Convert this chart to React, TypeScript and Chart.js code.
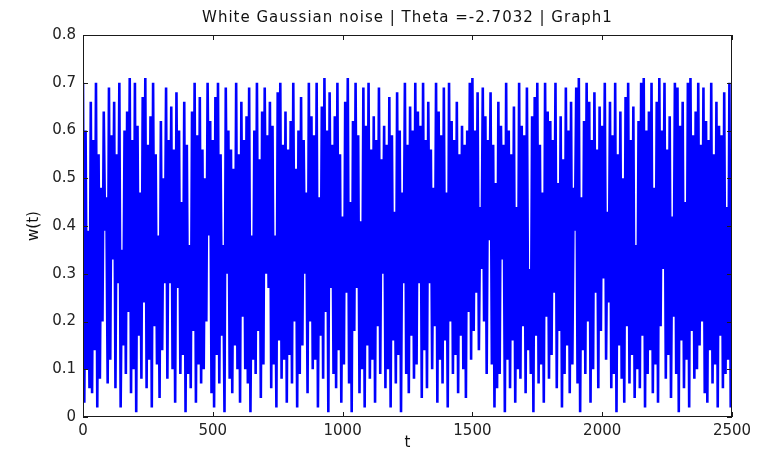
import React, { useEffect, useRef } from "react";
import { Chart, registerables } from "chart.js";

Chart.register(...registerables);

const chartTitle = "White Gaussian noise | Theta =-2.7032 | Graph1";
const xAxisLabel = "t";
const yAxisLabel = "w(t)";
const xTicks = [0, 500, 1000, 1500, 2000, 2500];
const yTicks = [0, 0.1, 0.2, 0.3, 0.4, 0.5, 0.6, 0.7, 0.8];
const yTickLabels = ["0", "0.1", "0.2", "0.3", "0.4", "0.5", "0.6", "0.7", "0.8"];
const xTickLabels = ["0", "500", "1000", "1500", "2000", "2500"];

// time between consecutive peak samples (a trough sample sits halfway between)
const sampleStep = 10;

// peaks of the noise signal
const upperValues = [
  0.70, 0.60, 0.39, 0.66, 0.58, 0.70, 0.55, 0.48, 0.64, 0.46,
  0.69, 0.59, 0.66, 0.55, 0.70, 0.35, 0.60, 0.64, 0.71, 0.58,
  0.70, 0.61, 0.47, 0.67, 0.71, 0.57, 0.63, 0.70, 0.55, 0.38,
  0.62, 0.50, 0.69, 0.58, 0.65, 0.56, 0.68, 0.60, 0.45, 0.66,
  0.57, 0.36, 0.64, 0.70, 0.59, 0.67, 0.56, 0.50, 0.70, 0.62,
  0.58, 0.67, 0.70, 0.55, 0.36, 0.69, 0.60, 0.56, 0.52, 0.70,
  0.55, 0.66, 0.58, 0.63, 0.69, 0.38, 0.60, 0.70, 0.54, 0.64,
  0.69, 0.59, 0.66, 0.61, 0.38, 0.68, 0.70, 0.57, 0.64, 0.56,
  0.62, 0.70, 0.52, 0.60, 0.67, 0.58, 0.47, 0.70, 0.63, 0.59,
  0.70, 0.46, 0.65, 0.71, 0.60, 0.68, 0.57, 0.63, 0.70, 0.55,
  0.42, 0.66, 0.71, 0.45, 0.62, 0.70, 0.59, 0.41, 0.69, 0.61,
  0.70, 0.56, 0.63, 0.58, 0.69, 0.54, 0.61, 0.57, 0.67, 0.59,
  0.43, 0.68, 0.60, 0.47, 0.70, 0.57, 0.65, 0.60, 0.70, 0.64,
  0.61, 0.70, 0.58, 0.66, 0.56, 0.48, 0.70, 0.64, 0.59, 0.69,
  0.47, 0.70, 0.62, 0.58, 0.66, 0.55, 0.61, 0.57, 0.60, 0.70,
  0.71, 0.60, 0.68, 0.44, 0.69, 0.63, 0.58, 0.68, 0.57, 0.49,
  0.66, 0.61, 0.57, 0.70, 0.60, 0.55, 0.65, 0.44, 0.70, 0.61,
  0.59, 0.69, 0.31, 0.63, 0.67, 0.70, 0.57, 0.47, 0.70, 0.64,
  0.62, 0.58, 0.70, 0.49, 0.63, 0.54, 0.69, 0.60, 0.66, 0.48,
  0.69, 0.71, 0.46, 0.62, 0.70, 0.66, 0.58, 0.68, 0.56, 0.65,
  0.61, 0.70, 0.43, 0.66, 0.59, 0.70, 0.55, 0.64, 0.50, 0.67,
  0.70, 0.58, 0.65, 0.36, 0.62, 0.70, 0.71, 0.60, 0.64, 0.70,
  0.48, 0.66, 0.71, 0.60, 0.70, 0.56, 0.63, 0.42, 0.70, 0.69,
  0.61, 0.66, 0.45, 0.70, 0.71, 0.59, 0.64, 0.70, 0.57, 0.69,
  0.62, 0.58, 0.70, 0.55, 0.66, 0.61, 0.59, 0.68, 0.44, 0.70,
];

// troughs of the noise signal
const lowerValues = [
  0.03, 0.10, 0.06, 0.05, 0.14, 0.02, 0.08, 0.20, 0.39, 0.07,
  0.12, 0.33, 0.06, 0.28, 0.02, 0.15, 0.09, 0.22, 0.05, 0.10,
  0.01, 0.17, 0.08, 0.24, 0.06, 0.12, 0.02, 0.19, 0.11, 0.04,
  0.14, 0.28, 0.08, 0.28, 0.10, 0.03, 0.27, 0.09, 0.13, 0.01,
  0.09, 0.06, 0.18, 0.03, 0.11, 0.07, 0.10, 0.20, 0.38, 0.05,
  0.02, 0.13, 0.07, 0.17, 0.01, 0.30, 0.08, 0.05, 0.15, 0.10,
  0.03, 0.21, 0.10, 0.07, 0.01, 0.12, 0.09, 0.18, 0.04, 0.11,
  0.30, 0.27, 0.06, 0.11, 0.02, 0.16, 0.08, 0.12, 0.03, 0.13,
  0.07, 0.20, 0.02, 0.09, 0.15, 0.30, 0.05, 0.20, 0.10, 0.12,
  0.02, 0.17, 0.08, 0.22, 0.01, 0.27, 0.09, 0.06, 0.14, 0.03,
  0.11, 0.26, 0.07, 0.01, 0.18, 0.27, 0.05, 0.10, 0.02, 0.15,
  0.08, 0.12, 0.03, 0.19, 0.09, 0.30, 0.06, 0.10, 0.02, 0.16,
  0.07, 0.13, 0.01, 0.28, 0.09, 0.05, 0.17, 0.08, 0.11, 0.28,
  0.04, 0.14, 0.06, 0.28, 0.10, 0.19, 0.03, 0.12, 0.07, 0.16,
  0.02, 0.20, 0.09, 0.13, 0.05, 0.17, 0.10, 0.04, 0.22, 0.12,
  0.18, 0.26, 0.14, 0.31, 0.20, 0.09, 0.37, 0.11, 0.02, 0.06,
  0.09, 0.33, 0.01, 0.12, 0.06, 0.16, 0.03, 0.10, 0.08, 0.19,
  0.05, 0.14, 0.09, 0.01, 0.17, 0.07, 0.11, 0.03, 0.21, 0.08,
  0.13, 0.26, 0.06, 0.18, 0.02, 0.09, 0.15, 0.05, 0.11, 0.39,
  0.07, 0.01, 0.14, 0.09, 0.20, 0.03, 0.10, 0.26, 0.06, 0.18,
  0.29, 0.12, 0.24, 0.06, 0.09, 0.01, 0.15, 0.08, 0.03, 0.19,
  0.07, 0.13, 0.04, 0.10, 0.06, 0.17, 0.02, 0.09, 0.14, 0.05,
  0.11, 0.03, 0.19, 0.31, 0.08, 0.13, 0.04, 0.21, 0.09, 0.01,
  0.16, 0.06, 0.12, 0.02, 0.18, 0.08, 0.10, 0.15, 0.20, 0.05,
  0.03, 0.14, 0.07, 0.11, 0.02, 0.17, 0.06, 0.09, 0.12, 0.02,
];

const FONT = "'DejaVu Sans', sans-serif";

const framePlugin = {
  id: "matlabFrame",
  afterDraw(chart: any) {
    const { ctx, chartArea } = chart;
    const { left, right, top, bottom } = chartArea;
    const xs = chart.scales.x;
    const ys = chart.scales.y;
    ctx.save();
    ctx.strokeStyle = "#1a1a1a";
    ctx.lineWidth = 1;
    ctx.strokeRect(Math.round(left) + 0.5, Math.round(top) + 0.5, Math.round(right - left) - 1, Math.round(bottom - top) - 1);
    const tl = 5;
    ctx.beginPath();
    xTicks.forEach((v) => {
      const px = Math.round(xs.getPixelForValue(v)) + 0.5;
      ctx.moveTo(px, bottom);
      ctx.lineTo(px, bottom - tl);
      ctx.moveTo(px, top);
      ctx.lineTo(px, top + tl);
    });
    yTicks.forEach((v) => {
      const py = Math.round(ys.getPixelForValue(v)) + 0.5;
      ctx.moveTo(left, py);
      ctx.lineTo(left + tl, py);
      ctx.moveTo(right, py);
      ctx.lineTo(right - tl, py);
    });
    ctx.stroke();

    ctx.fillStyle = "#111";
    ctx.font = `15px ${FONT}`;
    ctx.textAlign = "center";
    ctx.textBaseline = "middle";
    (ctx as any).letterSpacing = "1px";
    ctx.fillText(chartTitle, (left + right) / 2, 18);
    (ctx as any).letterSpacing = "0px";
    ctx.fillText(xAxisLabel, (left + right) / 2, 443);
    ctx.translate(34, (top + bottom) / 2);
    ctx.rotate(-Math.PI / 2);
    ctx.fillText(yAxisLabel, 0, 0);
    ctx.restore();
  },
};

export default function App() {
  const canvasRef = useRef<HTMLCanvasElement | null>(null);

  useEffect(() => {
    document.body.style.margin = "0";
    const points: { x: number; y: number }[] = [];
    upperValues.forEach((u, i) => {
      points.push({ x: i * sampleStep, y: u });
      points.push({ x: i * sampleStep + sampleStep / 2, y: lowerValues[i] });
    });

    const chart = new Chart(canvasRef.current as HTMLCanvasElement, {
      type: "line",
      data: {
        datasets: [
          {
            data: points,
            borderColor: "#0000ff",
            backgroundColor: "#0000ff",
            borderWidth: 2.6,
            pointRadius: 0,
            tension: 0,
            fill: false,
            borderJoinStyle: "miter",
          },
        ],
      },
      options: {
        animation: false,
        responsive: false,
        parsing: false,
        normalized: true,
        layout: { padding: { top: 35, right: 31, left: 0, bottom: 0 } },
        plugins: {
          legend: { display: false },
          title: { display: false },
          tooltip: { enabled: false },
        },
        scales: {
          x: {
            type: "linear",
            min: 0,
            max: 2500,
            afterBuildTicks: (s: any) => {
              s.ticks = xTicks.map((v) => ({ value: v }));
            },
            afterFit: (s: any) => {
              s.height = 36;
            },
            grid: { display: false, drawTicks: false },
            border: { display: false },
            ticks: {
              autoSkip: false,
              maxRotation: 0,
              padding: 5,
              color: "#222",
              font: { family: FONT, size: 15 },
              callback: (v: any) => xTickLabels[xTicks.indexOf(Number(v))] ?? "",
            },
          },
          y: {
            type: "linear",
            min: 0,
            max: 0.8,
            afterBuildTicks: (s: any) => {
              s.ticks = yTicks.map((v) => ({ value: v }));
            },
            afterFit: (s: any) => {
              s.width = 83;
            },
            grid: { display: false, drawTicks: false },
            border: { display: false },
            ticks: {
              autoSkip: false,
              padding: 7,
              color: "#222",
              font: { family: FONT, size: 15 },
              callback: (v: any) => {
                const idx = yTicks.findIndex((t) => Math.abs(t - Number(v)) < 1e-9);
                return idx >= 0 ? yTickLabels[idx] : "";
              },
            },
          },
        },
      },
      plugins: [framePlugin],
    });
    return () => chart.destroy();
  }, []);

  return (
    <div style={{ width: 763, height: 453, background: "#fff" }}>
      <canvas ref={canvasRef} width={763} height={453} style={{ display: "block" }} />
    </div>
  );
}
